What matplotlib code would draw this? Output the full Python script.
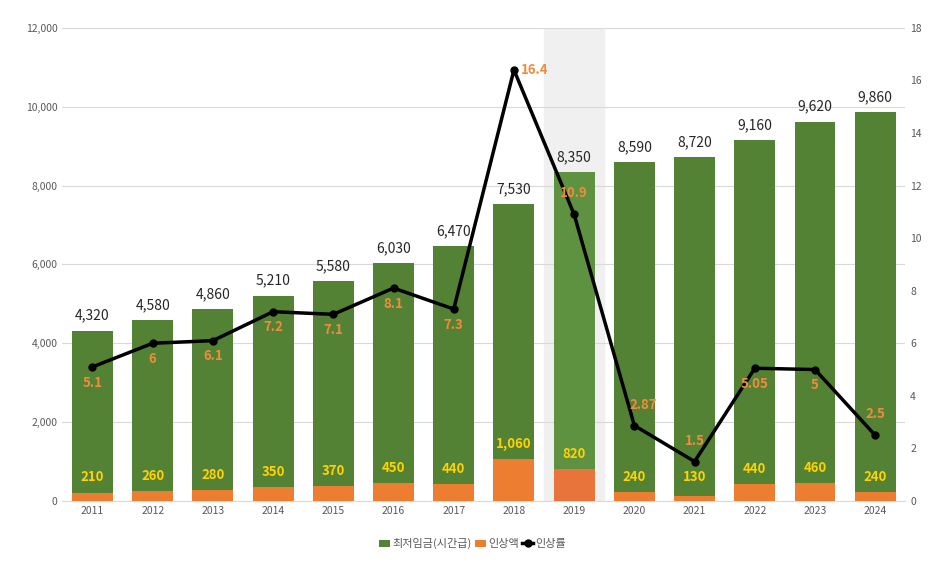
import matplotlib
matplotlib.use("Agg")
import matplotlib.pyplot as plt
from matplotlib import font_manager
import numpy as np

names = {f.name for f in font_manager.fontManager.ttflist}
kr = [n for n in ["Noto Sans CJK KR", "Noto Sans CJK JP", "Noto Sans CJK SC"] if n in names]
plt.rcParams["font.family"] = kr + ["DejaVu Sans"]

years = ["2011","2012","2013","2014","2015","2016","2017","2018","2019","2020","2021","2022","2023","2024"]
wage = [4320,4580,4860,5210,5580,6030,6470,7530,8350,8590,8720,9160,9620,9860]
increase = [210,260,280,350,370,450,440,1060,820,240,130,440,460,240]
rate = [5.1,6,6.1,7.2,7.1,8.1,7.3,16.4,10.9,2.87,1.5,5.05,5,2.5]
rate_labels = ["5.1","6","6.1","7.2","7.1","8.1","7.3","16.4","10.9","2.87","1.5","5.05","5","2.5"]
# label placement relative to the point (dx in categories, dy in % units)
rate_off = [(0.4,-0.6),(0,-0.6),(0,-0.6),(0,-0.6),(0,-0.6),(0,-0.6),(0,-0.6),(0.35,0),(0,0.8),(0.15,0.8),(0,0.8),(0,-0.6),(0,-0.6),(0,0.8)]
rate_off[0] = (0,-0.6)

fig = plt.figure(figsize=(9.45,5.68), dpi=100)
ax = fig.add_axes([0.066,0.118,0.892,0.833])
x = np.arange(len(years))
ax.axvspan(7.5,8.5,color="#f0f0f0",zorder=0)
green = ["#548235"]*len(years); green[8] = "#5e9140"
orange = ["#ed7d31"]*len(years); orange[8] = "#e8743b"
ax.bar(x, wage, width=0.68, color=green, zorder=2, label="최저임금(시간급)")
ax.bar(x, increase, width=0.68, color=orange, zorder=3, label="인상액")
for i in x:
    ax.text(i, wage[i]+200, f"{wage[i]:,}", ha="center", va="bottom", fontsize=10, color="#262626")
    ypos = max(increase[i]+380, 620)
    ax.text(i, ypos, f"{increase[i]:,}", ha="center", va="center",
            fontsize=9.5, color="#ffd200", fontweight="bold", zorder=5)
ax.set_ylim(0,12000)
ax.set_xlim(-0.5,13.5)
ax.set_yticks(range(0,12001,2000))
ax.set_yticklabels([f"{v:,}" for v in range(0,12001,2000)])
ax.set_xticks(x); ax.set_xticklabels(years)
ax.grid(axis="y", color="#d9d9d9", lw=0.8, zorder=0)
ax.tick_params(labelsize=7.5, colors="#595959", length=0)
for s in ax.spines.values(): s.set_visible(False)
ax.spines["bottom"].set_visible(True); ax.spines["bottom"].set_color("#d9d9d9")

ax2 = ax.twinx()
ax2.plot(x, rate, color="black", lw=2.5, marker="o", ms=5, zorder=6, label="인상률")
ax2.set_ylim(0,18)
ax2.set_yticks(range(0,19,2))
ax2.tick_params(labelsize=7.5, colors="#595959", length=0)
for s in ax2.spines.values(): s.set_visible(False)
for i in x:
    dx, dy = rate_off[i]
    ax2.text(i+dx, rate[i]+dy, rate_labels[i], ha="center", va="center",
             fontsize=9.5, color="#f08c3c", fontweight="bold", zorder=7)

h1,l1 = ax.get_legend_handles_labels(); h2,l2 = ax2.get_legend_handles_labels()
fig.legend(h1+h2, l1+l2, loc="lower center", bbox_to_anchor=(0.5,0.015), ncol=3, frameon=False,
           fontsize=8, handlelength=1.0, columnspacing=0.3, handletextpad=0.2, labelcolor="#595959")
fig.savefig("out.png", dpi=100)
